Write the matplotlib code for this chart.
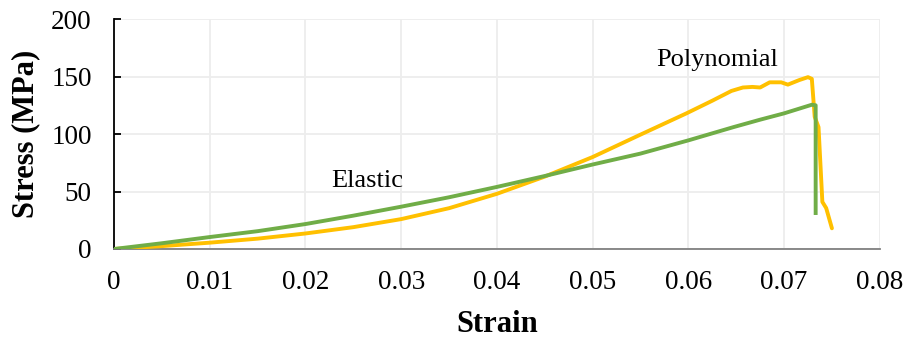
import matplotlib
matplotlib.use("Agg")
import matplotlib.pyplot as plt

# Polynomial (yellow)
poly_strain = [0.0, 0.005, 0.01, 0.015, 0.02, 0.025, 0.03, 0.035, 0.04, 0.045, 0.05,
               0.055, 0.0598, 0.0625, 0.0645, 0.0657, 0.0667, 0.0675, 0.0685, 0.0697, 0.0704,
               0.0716, 0.0725, 0.0729, 0.0732, 0.0736, 0.0740, 0.0744, 0.0750]
poly_stress = [0.0, 2.5, 5.5, 9.0, 13.5, 19.0, 26.0, 35.5, 48.0, 63.0, 80.0,
               99.5, 118.0, 129.0, 137.5, 140.5, 141.0, 140.5, 145.0, 145.0, 143.0,
               147.0, 149.5, 148.0, 115.0, 106.0, 41.0, 35.6, 18.0]

# Elastic (green)
elas_strain = [0.0, 0.005, 0.01, 0.015, 0.02, 0.025, 0.03, 0.035, 0.04, 0.045, 0.05, 0.055,
               0.06, 0.0647, 0.0675, 0.07, 0.0729, 0.0733, 0.0733]
elas_stress = [0.0, 5.0, 10.4, 15.5, 21.7, 29.0, 36.8, 45.0, 54.0, 63.5, 73.5, 83.0,
               94.5, 106.0, 112.5, 118.0, 125.5, 125.0, 29.6]

x_ticks = [0, 0.01, 0.02, 0.03, 0.04, 0.05, 0.06, 0.07, 0.08]
x_labels = ["0", "0.01", "0.02", "0.03", "0.04", "0.05", "0.06", "0.07", "0.08"]
y_ticks = [0, 50, 100, 150, 200]

plt.rcParams['font.family'] = ['Liberation Serif', 'DejaVu Serif']

fig = plt.figure(figsize=(9.07, 3.41), dpi=100)
ax = fig.add_axes([0.1257, 0.2698, 0.8443, 0.6742])

ax.plot(poly_strain, poly_stress, color="#FFC000", lw=2.8, solid_joinstyle="round",
        solid_capstyle="round", zorder=3)
ax.plot(elas_strain, elas_stress, color="#70AD47", lw=2.8, solid_joinstyle="round",
        solid_capstyle="butt", zorder=4)

ax.set_xlim(0, 0.08)
ax.set_ylim(0, 200)
ax.set_xticks(x_ticks)
ax.set_xticklabels(x_labels)
ax.set_yticks(y_ticks)

ax.grid(True, color="#EDEDED", lw=1.3)
ax.set_axisbelow(True)
for s in ["top", "right"]:
    ax.spines[s].set_visible(False)
ax.spines["left"].set_color("black")
ax.spines["bottom"].set_color("#808080")
ax.spines["left"].set_linewidth(1.3)
ax.spines["bottom"].set_linewidth(1.3)
ax.tick_params(axis="y", direction="in", length=5, width=1.3, labelsize=19.5, pad=16)
ax.tick_params(axis="x", length=0, labelsize=19.5, pad=15)

ax.set_xlabel("Strain", fontsize=22, fontweight="bold", labelpad=11)
ax.set_ylabel("Stress (MPa)", fontsize=22, fontweight="bold", labelpad=8)

ax.text(0.0265, 59, "Elastic", fontsize=19, ha="center", va="center")
ax.text(0.063, 164, "Polynomial", fontsize=19, ha="center", va="center")

fig.savefig("out.png", dpi=100)
